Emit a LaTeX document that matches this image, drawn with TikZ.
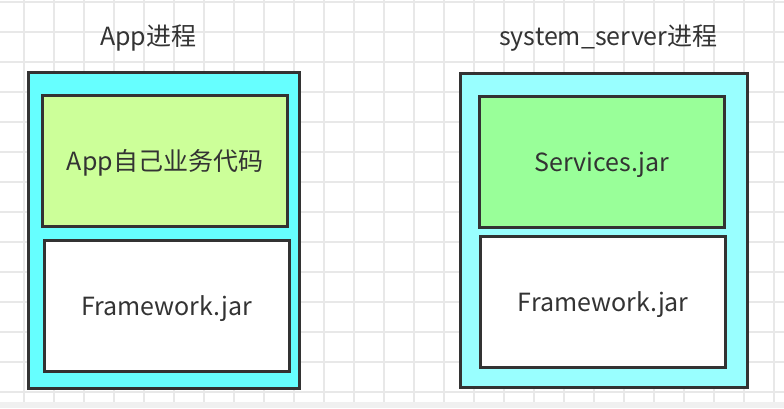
\documentclass[tikz,border=0pt]{standalone}
\usepackage{fontspec}
\setmainfont{Noto Sans CJK SC}
\definecolor{edge}{HTML}{333333}
\definecolor{txt}{HTML}{333333}
\definecolor{gridgray}{HTML}{E8E8E8}
\definecolor{band}{HTML}{F0F0F0}
\definecolor{appcyan}{HTML}{66FFFF}
\definecolor{syscyan}{HTML}{99FFFF}
\definecolor{appgreen}{HTML}{CCFF99}
\definecolor{sysgreen}{HTML}{99FF99}
\begin{document}
\begin{tikzpicture}[x=1pt,y=1pt,yscale=-1,
  procbox/.style={draw=edge,line width=3pt,inner sep=0pt},
  partbox/.style={draw=edge,line width=3pt,inner sep=0pt,minimum width=245,minimum height=131,text=txt,font=\fontsize{25}{29}\selectfont,text height=24pt,text depth=5pt},
  titletext/.style={text=txt,font=\fontsize{25}{29}\selectfont,inner sep=0pt,text height=24pt,text depth=5pt},
  gridline/.style={draw=gridgray,line width=1.5pt}]
\useasboundingbox (0,0) rectangle (784,408);

%Background grid
\fill [white] (0,0) rectangle (784,408);
\fill [band] (0,402) rectangle (784,408);
\foreach \gx in {24,54,...,774} \draw [gridline] (\gx,0) -- (\gx,402);
\foreach \gy in {2,32,...,392} \draw [gridline] (0,\gy) -- (784,\gy);

%Shape: Rectangle
\node [procbox,fill=appcyan,minimum width=271,minimum height=316] (appproc) at (164,230) {};
%Shape: Rectangle
\node [procbox,fill=syscyan,minimum width=287,minimum height=314] (sysproc) at (603.5,230) {};

%Shape: Rectangle
\node [partbox,fill=appgreen] (appcode) at (165,161) {App自己业务代码};
%Shape: Rectangle
\node [partbox,fill=white] (appfw) at (166.7,306) {Framework.jar};
%Shape: Rectangle
\node [partbox,fill=sysgreen] (services) at (601.8,161.5) {Services.jar};
%Shape: Rectangle
\node [partbox,fill=white] (sysfw) at (603.3,302) {Framework.jar};

% Text Node
\node [titletext] (apptitle) at (148.3,35.5) {App进程};
% Text Node
\node [titletext] (systitle) at (608.3,35.5) {system\_server进程};

\end{tikzpicture}
\end{document}
